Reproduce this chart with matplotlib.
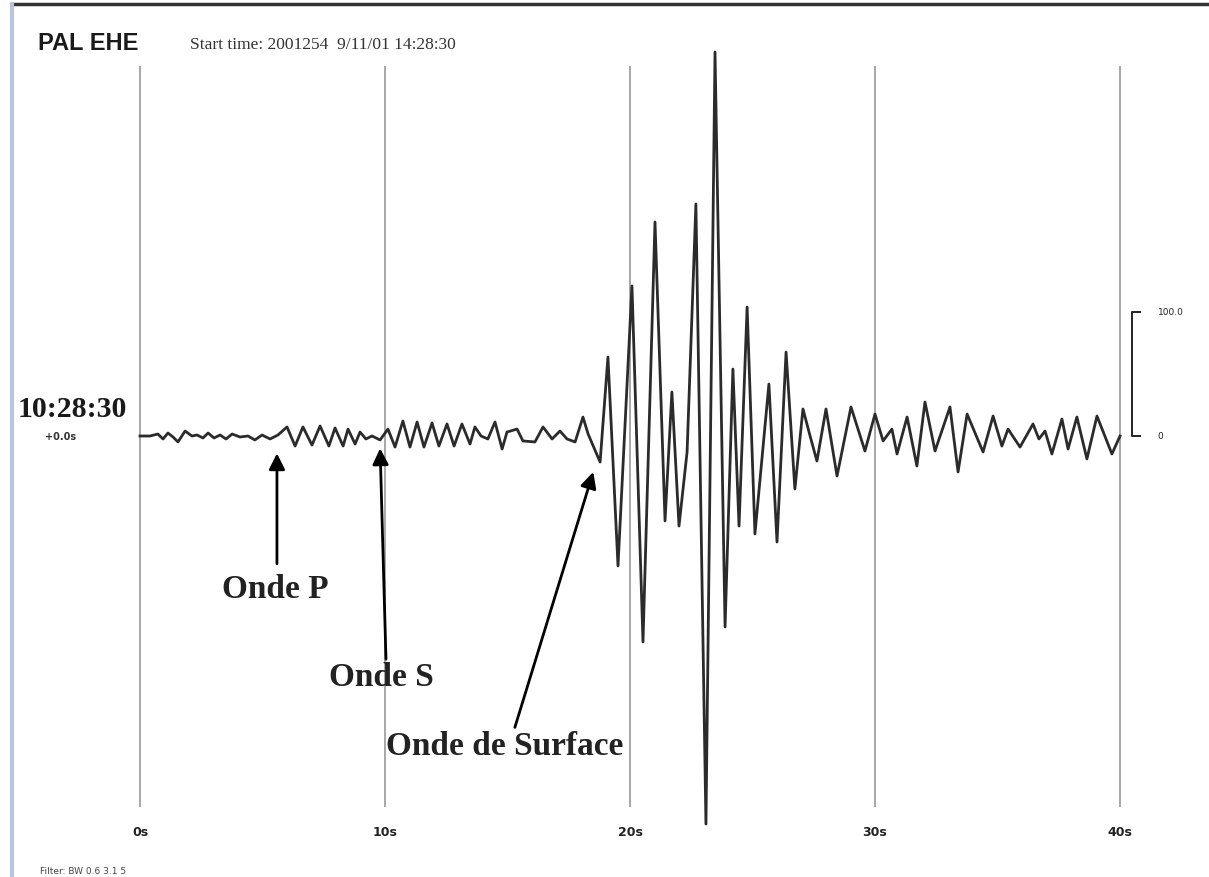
import matplotlib.pyplot as plt
from matplotlib.lines import Line2D

# Seismogram extrema (time in s, amplitude in counts)
times = [0.00, 0.41, 0.73, 0.94, 1.14, 1.35, 1.55, 1.84, 2.12, 2.33, 2.57, 2.78,
         3.02, 3.27, 3.51, 3.76, 4.08, 4.41, 4.69, 4.98, 5.31, 5.63, 6.00, 6.33,
         6.65, 7.02, 7.35, 7.71, 7.96, 8.29, 8.49, 8.78, 8.98, 9.22, 9.47, 9.80,
         10.12, 10.41, 10.73, 11.02, 11.31, 11.59, 11.92, 12.20, 12.53, 12.82,
         13.14, 13.47, 13.67, 13.92, 14.20, 14.49, 14.78, 14.98, 15.39, 15.63,
         16.12, 16.45, 16.82, 17.14, 17.43, 17.76, 18.08, 18.29, 18.78, 19.10,
         19.51, 20.08, 20.53, 21.02, 21.43, 21.71, 22.00, 22.33, 22.69, 23.10,
         23.47, 23.88, 24.20, 24.45, 24.78, 25.10, 25.67, 26.00, 26.37, 26.73,
         27.06, 27.35, 27.63, 28.00, 28.45, 29.02, 29.59, 30.00, 30.33, 30.69,
         30.90, 31.31, 31.71, 32.04, 32.45, 33.06, 33.39, 33.76, 34.41, 34.82,
         35.18, 35.43, 35.92, 36.45, 36.69, 36.94, 37.22, 37.63, 37.88, 38.24,
         38.65, 39.06, 39.67, 40.00]
amplitude = [0, 0, 1.6, -2.4, 2.4, -0.8, -4.8, 4.0, 0, 0.8, -1.6, 2.4,
             -1.6, 0.8, -2.4, 1.6, -0.8, 0, -3.2, 0.8, -2.4, 0.8, 7.3, -8.1,
             7.3, -7.3, 8.1, -8.1, 6.5, -8.1, 5.6, -6.5, 3.2, -2.4, 0, -3.2,
             5.6, -8.9, 12.1, -8.9, 11.3, -8.9, 10.5, -8.1, 9.7, -8.1,
             9.7, -6.5, 7.3, 0, -2.4, 11.3, -10.5, 3.2, 5.6, -4.0,
             -4.8, 7.3, -2.4, 4.0, -2.4, -4.8, 15.3, 1.6, -21.0, 63.7,
             -104.8, 121.0, -166.1, 172.6, -68.5, 35.5, -72.6, -12.9, 187.1, -312.9,
             309.7, -154.0, 54.0, -72.6, 104.0, -79.0, 41.9, -85.5, 67.7, -42.7,
             21.8, 0, -20.2, 21.8, -32.3, 23.4, -12.1, 17.7, -4.0, 5.6,
             -14.5, 15.3, -24.2, 27.4, -12.1, 23.4, -29.0, 17.7, -12.9, 16.1,
             -8.1, 5.6, -8.9, 9.7, -2.4, 4.0, -14.5, 13.7, -10.5, 15.3,
             -18.5, 16.1, -14.5, 0]

grid_times = [0, 10, 20, 30, 40]
tick_labels = ['0s', '10s', '20s', '30s', '40s']
scale_value = 100.0

# annotations: label, arrow tip (s, counts), arrow tail (s, counts)
waves = ['Onde P', 'Onde S', 'Onde de Surface']
tips = [(5.59, -14), (9.80, -10), (18.50, -29)]
tails = [(5.59, -103), (10.04, -180), (15.30, -235)]

px_per_s = 24.5
px_per_count = 1.24
x0_px, y0_px = 140, 437
W, H = 1209, 878

fig = plt.figure(figsize=(W / 100, H / 100), dpi=100)
ax = fig.add_axes([0, 0, 1, 1])
ax.set_xlim(-x0_px / px_per_s, (W - x0_px) / px_per_s)
ax.set_ylim(-(H - y0_px) / px_per_count, y0_px / px_per_count)
ax.axis('off')

# vertical time lines
ax.vlines(grid_times, -299, 298, color='#8f8f8f', lw=1.1, zorder=1)

# trace
ax.plot(times, amplitude, color='#2b2b2b', lw=2.0, solid_joinstyle='round', zorder=3)

# time labels under the lines
for t, lab in zip(grid_times, tick_labels):
    ax.text(t, -(833 - y0_px) / px_per_count, lab, ha='center', va='center',
            fontsize=9, fontweight='bold', family='DejaVu Sans Condensed',
            color='#222222')

# amplitude scale bar
sx = (1132 - x0_px) / px_per_s
ax.plot([sx + 0.33, sx, sx, sx + 0.33], [scale_value, scale_value, 0, 0],
        color='#222222', lw=1.4)
ax.text(sx + 1.05, scale_value, '100.0', fontsize=6.5, va='center', color='#222222')
ax.text(sx + 1.05, 0, '0', fontsize=6.5, va='center', color='#222222')

# arrows and labels
label_pos = [(275, 590), (381, 678), (505, 747)]
for name, tip, tail, (lx, ly) in zip(waves, tips, tails, label_pos):
    ax.annotate('', xy=tip, xytext=tail,
                arrowprops=dict(arrowstyle='-|>', color='black', lw=2,
                                mutation_scale=24, shrinkA=0, shrinkB=0))
    fig.text(lx / W, 1 - ly / H, name, ha='center', va='center', fontsize=24,
             fontweight='bold', family='Liberation Serif', color='#222222')

# header texts
fig.text(38 / W, 1 - 43 / H, 'PAL EHE', fontsize=17, fontweight='bold',
         family='Liberation Sans', va='center', color='#1a1a1a')
fig.text(190 / W, 1 - 45 / H, 'Start time: 2001254  9/11/01 14:28:30', fontsize=12.5,
         family='Liberation Serif', va='center', color='#333333')
fig.text(18 / W, 1 - 410 / H, '10:28:30', fontsize=21.5, fontweight='bold',
         family='Liberation Serif', va='center', color='#1a1a1a')
fig.text(45 / W, 1 - 437 / H, '+0.0s', fontsize=7, fontweight='bold',
         va='center', color='#333333')
fig.text(40 / W, 1 - 872 / H, 'Filter: BW 0.6 3.1 5', fontsize=6.5,
         va='center', color='#444444')

# window frame
fig.add_artist(Line2D([15 / W, 1], [1 - 5 / H, 1 - 5 / H], color='#333333', lw=2.5))
fig.add_artist(Line2D([12 / W, 12 / W], [0, 1 - 5 / H], color='#b8c4dc', lw=3))

fig.savefig('out.png', dpi=100)
